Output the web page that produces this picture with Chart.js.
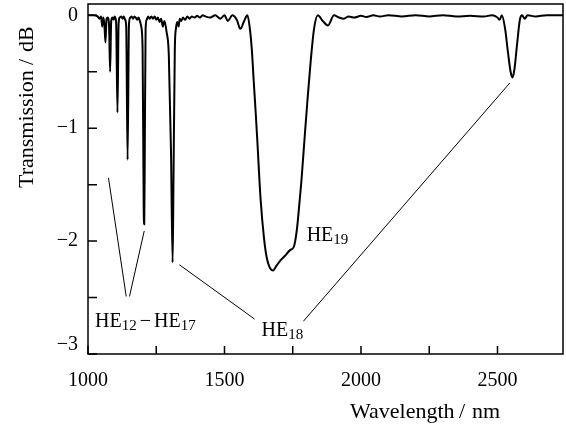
<!DOCTYPE html>
<html>
<head>
<meta charset="utf-8">
<script src="https://cdn.jsdelivr.net/npm/chart.js@4.4.1/dist/chart.umd.min.js"></script>
<style>
  body { margin: 0; background: #fff; }
  canvas { display: block; }
</style>
</head>
<body>
<canvas id="spectrum" width="566" height="427"></canvas>
<script>
// wavelength (nm) and transmission (dB)
const wavelength = [
  1000, 1020, 1035, 1042, 1048, 1052, 1056, 1060, 1064, 1068, 1072, 1077, 1081, 1085, 1090, 1094,
  1098, 1103, 1108, 1112, 1116, 1122, 1127, 1131, 1136, 1140, 1145, 1150, 1155, 1160, 1165, 1170,
  1175, 1180, 1185, 1190, 1195, 1200, 1204, 1206, 1208, 1211, 1215, 1220, 1226, 1232, 1238, 1244,
  1250, 1256, 1262, 1268, 1274, 1280, 1288, 1296, 1304, 1310, 1313, 1318, 1322, 1327, 1332, 1336,
  1342, 1348, 1356, 1364, 1372, 1380, 1390, 1400, 1410, 1420, 1430, 1448, 1466, 1485, 1500, 1512,
  1529, 1545, 1558, 1572, 1584, 1592, 1600, 1607, 1614, 1620, 1632, 1645, 1655, 1665, 1678, 1690,
  1705, 1722, 1740, 1754, 1765, 1775, 1782, 1793, 1804, 1816, 1828, 1842, 1860, 1879, 1901, 1920,
  1937, 1955, 1975, 2000, 2020, 2045, 2070, 2100, 2150, 2200, 2250, 2300, 2350, 2400, 2450, 2480,
  2500, 2508, 2516, 2528, 2538, 2548, 2555, 2562, 2572, 2582, 2590, 2600, 2610, 2640, 2680, 2740
];
const transmission = [
  0, 0, -0.01, -0.03, -0.01, -0.10, -0.02, -0.08, -0.24, -0.03, -0.02, -0.08, -0.50, -0.05, -0.02, -0.04,
  -0.01, -0.06, -0.86, -0.08, -0.02, -0.01, -0.03, -0.01, -0.04, -0.10, -1.28, -0.08, -0.02, -0.01, -0.03, -0.01,
  -0.02, -0.04, -0.02, -0.05, -0.10, -0.30, -1.70, -1.85, -1.20, -0.12, -0.04, -0.01, -0.03, -0.01, -0.03, -0.01,
  -0.04, -0.02, -0.06, -0.03, -0.10, -0.05, -0.15, -0.35, -1.20, -2.19, -1.50, -0.30, -0.12, -0.06, -0.10, -0.03,
  -0.05, -0.02, -0.04, -0.01, -0.03, -0.01, -0.02, -0.005, -0.02, 0, -0.01, -0.02, 0, -0.03, 0, -0.05,
  0, -0.04, -0.12, -0.05, 0, -0.10, -0.30, -0.58, -0.85, -1.10, -1.62, -1.98, -2.15, -2.23, -2.26, -2.22,
  -2.17, -2.13, -2.08, -2.05, -1.90, -1.65, -1.46, -1.10, -0.75, -0.40, -0.12, 0, -0.05, -0.09, 0, -0.02,
  -0.03, -0.01, -0.02, -0.005, -0.015, 0, -0.01, 0, -0.01, 0, -0.01, 0, -0.01, -0.005, -0.01, 0,
  -0.02, -0.04, 0, -0.12, -0.32, -0.50, -0.55, -0.48, -0.25, -0.04, 0, -0.03, 0, -0.01, 0, 0
];

// axis ticks
const xTickVals = [1000, 1250, 1500, 1750, 2000, 2250, 2500];
const yTickVals = [0, -0.5, -1, -1.5, -2, -2.5, -3];

// leader lines for the mode labels (data coords)
const leadA = [[1075, -1.44], [1140, -2.49]];
const leadB = [[1152, -2.49], [1206, -1.91]];
const leadC = [[1335, -2.21], [1610, -2.69]];
const leadD = [[1789, -2.71], [2545, -0.60]];

const SERIF = '"Liberation Serif", "Times New Roman", serif';
const MINUS = '\u2212';

function toPts(arr) {
  return arr.map(p => ({ x: p[0], y: p[1] }));
}

function leader(arr) {
  return {
    data: toPts(arr),
    borderColor: '#000',
    borderWidth: 1,
    pointRadius: 0,
    tension: 0
  };
}

// draws "HE" + subscript pieces, left x / baseline y in pixels
function drawMode(ctx, x, y, parts) {
  ctx.textBaseline = 'alphabetic';
  ctx.textAlign = 'left';
  parts.forEach(p => {
    ctx.font = (p.sub ? '15px ' : '20px ') + SERIF;
    ctx.fillText(p.t, x, p.sub ? y + 3 : y);
    x += ctx.measureText(p.t).width + (p.gap || 0);
  });
}

function noPad(s) {
  s.paddingLeft = 0; s.paddingRight = 0; s.paddingTop = 0; s.paddingBottom = 0;
}

const decor = {
  id: 'decor',
  afterDraw(chart) {
    const ctx = chart.ctx;
    const a = chart.chartArea;
    const xs = chart.scales.x, ys = chart.scales.y;
    ctx.save();
    ctx.strokeStyle = '#000';
    ctx.fillStyle = '#000';
    ctx.lineWidth = 1.5;
    ctx.strokeRect(a.left, a.top, a.right - a.left, a.bottom - a.top);

    // inward tick marks
    ctx.beginPath();
    xTickVals.forEach(v => {
      const px = xs.getPixelForValue(v);
      ctx.moveTo(px, a.bottom);
      ctx.lineTo(px, a.bottom - 8);
    });
    yTickVals.forEach(v => {
      const py = ys.getPixelForValue(v);
      ctx.moveTo(a.left, py);
      ctx.lineTo(a.left + 9, py);
    });
    ctx.stroke();

    // bottom y label sits a little above its tick
    ctx.font = '20px ' + SERIF;
    ctx.textAlign = 'right';
    ctx.textBaseline = 'middle';
    ctx.fillText(MINUS + '3', a.left - 10, ys.getPixelForValue(-3) - 9);

    // axis titles
    ctx.textAlign = 'left';
    ctx.textBaseline = 'alphabetic';
    ctx.font = '22px ' + SERIF;
    ctx.fillText('Wavelength', 350, 418);
    ctx.fillText('/', 459, 418);
    ctx.fillText('nm', 472, 418);
    ctx.save();
    ctx.translate(33, 188);
    ctx.rotate(-Math.PI / 2);
    ctx.fillText('Transmission', 0, 0);
    ctx.fillText('/', 123, 0);
    ctx.fillText('dB', 136, 0);
    ctx.restore();

    // mode labels
    drawMode(ctx, xs.getPixelForValue(1026), ys.getPixelForValue(-2.76), [
      { t: 'HE' }, { t: '12', sub: true, gap: 3 }, { t: MINUS, gap: 3 }, { t: 'HE' }, { t: '17', sub: true }
    ]);
    drawMode(ctx, xs.getPixelForValue(1636), ys.getPixelForValue(-2.84), [
      { t: 'HE' }, { t: '18', sub: true }
    ]);
    drawMode(ctx, xs.getPixelForValue(1801), ys.getPixelForValue(-2.0), [
      { t: 'HE' }, { t: '19', sub: true }
    ]);
    ctx.restore();
  }
};

const ctx = document.getElementById('spectrum');
const chart = new Chart(ctx, {
  type: 'line',
  data: {
    datasets: [
      {
        data: wavelength.map((w, i) => ({ x: w, y: transmission[i] })),
        borderColor: '#000',
        borderWidth: 2,
        pointRadius: 0,
        cubicInterpolationMode: 'monotone'
      },
      leader(leadA),
      leader(leadB),
      leader(leadC),
      leader(leadD)
    ]
  },
  options: {
    responsive: false,
    animation: false,
    layout: { padding: { top: 4, right: 3, left: 0, bottom: 0 } },
    plugins: { legend: { display: false }, tooltip: { enabled: false } },
    scales: {
      x: {
        type: 'linear',
        min: 1000,
        max: 2740,
        grid: { display: false, drawTicks: false },
        border: { display: false },
        afterBuildTicks(s) { s.ticks = xTickVals.map(v => ({ value: v })); },
        afterFit(s) { s.height = 73; noPad(s); },
        ticks: {
          padding: 15,
          color: '#000',
          font: { family: SERIF, size: 20 },
          maxRotation: 0,
          autoSkip: false,
          callback: v => (v % 500 === 0 ? String(v) : '')
        }
      },
      y: {
        min: -3,
        max: 0.1,
        grid: { display: false, drawTicks: false },
        border: { display: false },
        afterBuildTicks(s) { s.ticks = yTickVals.map(v => ({ value: v })); },
        afterFit(s) { s.width = 88; noPad(s); },
        ticks: {
          padding: 10,
          color: '#000',
          font: { family: SERIF, size: 20 },
          autoSkip: false,
          callback: v => (Number.isInteger(v) && v !== -3 ? (v < 0 ? MINUS + Math.abs(v) : String(v)) : '')
        }
      }
    }
  },
  plugins: [decor]
});
</script>
</body>
</html>
